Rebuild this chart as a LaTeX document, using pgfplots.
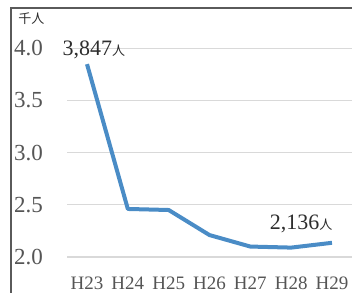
\documentclass[border=0pt]{standalone}
\usepackage{fontspec}
\setmainfont{Liberation Serif}
\newfontfamily\cjk{Noto Sans CJK JP}
\usepackage{pgfplots}
\pgfplotsset{compat=1.18}
\definecolor{lineblue}{RGB}{74,140,198}
\definecolor{gridgray}{RGB}{217,217,217}
\definecolor{framegray}{RGB}{90,90,90}
\definecolor{ticktext}{RGB}{85,85,85}
\definecolor{labtext}{RGB}{45,45,45}
\begin{document}
\begin{tikzpicture}
\useasboundingbox (-33.5pt,-18pt) rectangle (142.5pt,128.5pt);
\begin{axis}[
  scale only axis, width=142.5pt, height=124.5pt,
  xmin=-0.49, xmax=6.49, ymin=2.0, ymax=4.3846,
  clip=false,
  axis line style={draw=none}, major tick style={draw=none},
  ytick={2.0,2.5,3.0,3.5,4.0},
  yticklabel style={anchor=west, xshift=-30pt, font=\fontsize{11.5}{12}\selectfont, text=ticktext,
    /pgf/number format/.cd, fixed, fixed zerofill, precision=1},
  ymajorgrids, grid style={color=gridgray, line width=0.6pt},
  xtick={0,1,2,3,4,5,6},
  xticklabels={H23,H24,H25,H26,H27,H28,H29},
  xticklabel style={font=\fontsize{9.5}{10}\selectfont, text=ticktext, yshift=-6.5pt},
  /pgf/number format/assume math mode=true,
]
\addplot[lineblue, line width=2pt, line join=round] coordinates {
  (0,3.847) (1,2.46) (2,2.45) (3,2.21) (4,2.10) (5,2.09) (6,2.136)
};
\node[anchor=west, inner sep=0pt, text=labtext, font=\fontsize{11}{12}\selectfont] at (axis cs:-0.61,3.98) {3,847{\cjk\fontsize{6.5}{8}\selectfont 人}};
\node[anchor=east, inner sep=0pt, text=labtext, font=\fontsize{11}{12}\selectfont] at (axis cs:6.02,2.32) {2,136{\cjk\fontsize{6.5}{8}\selectfont 人}};
\end{axis}
\draw[framegray, line width=0.8pt] (-28pt,-20pt) -- (-28pt,124.5pt) -- (145pt,124.5pt);
\node[anchor=west, inner sep=0pt, text=labtext, font=\cjk\fontsize{6.5}{7}\selectfont] at (-24.5pt,119pt) {千人};
\end{tikzpicture}
\end{document}
